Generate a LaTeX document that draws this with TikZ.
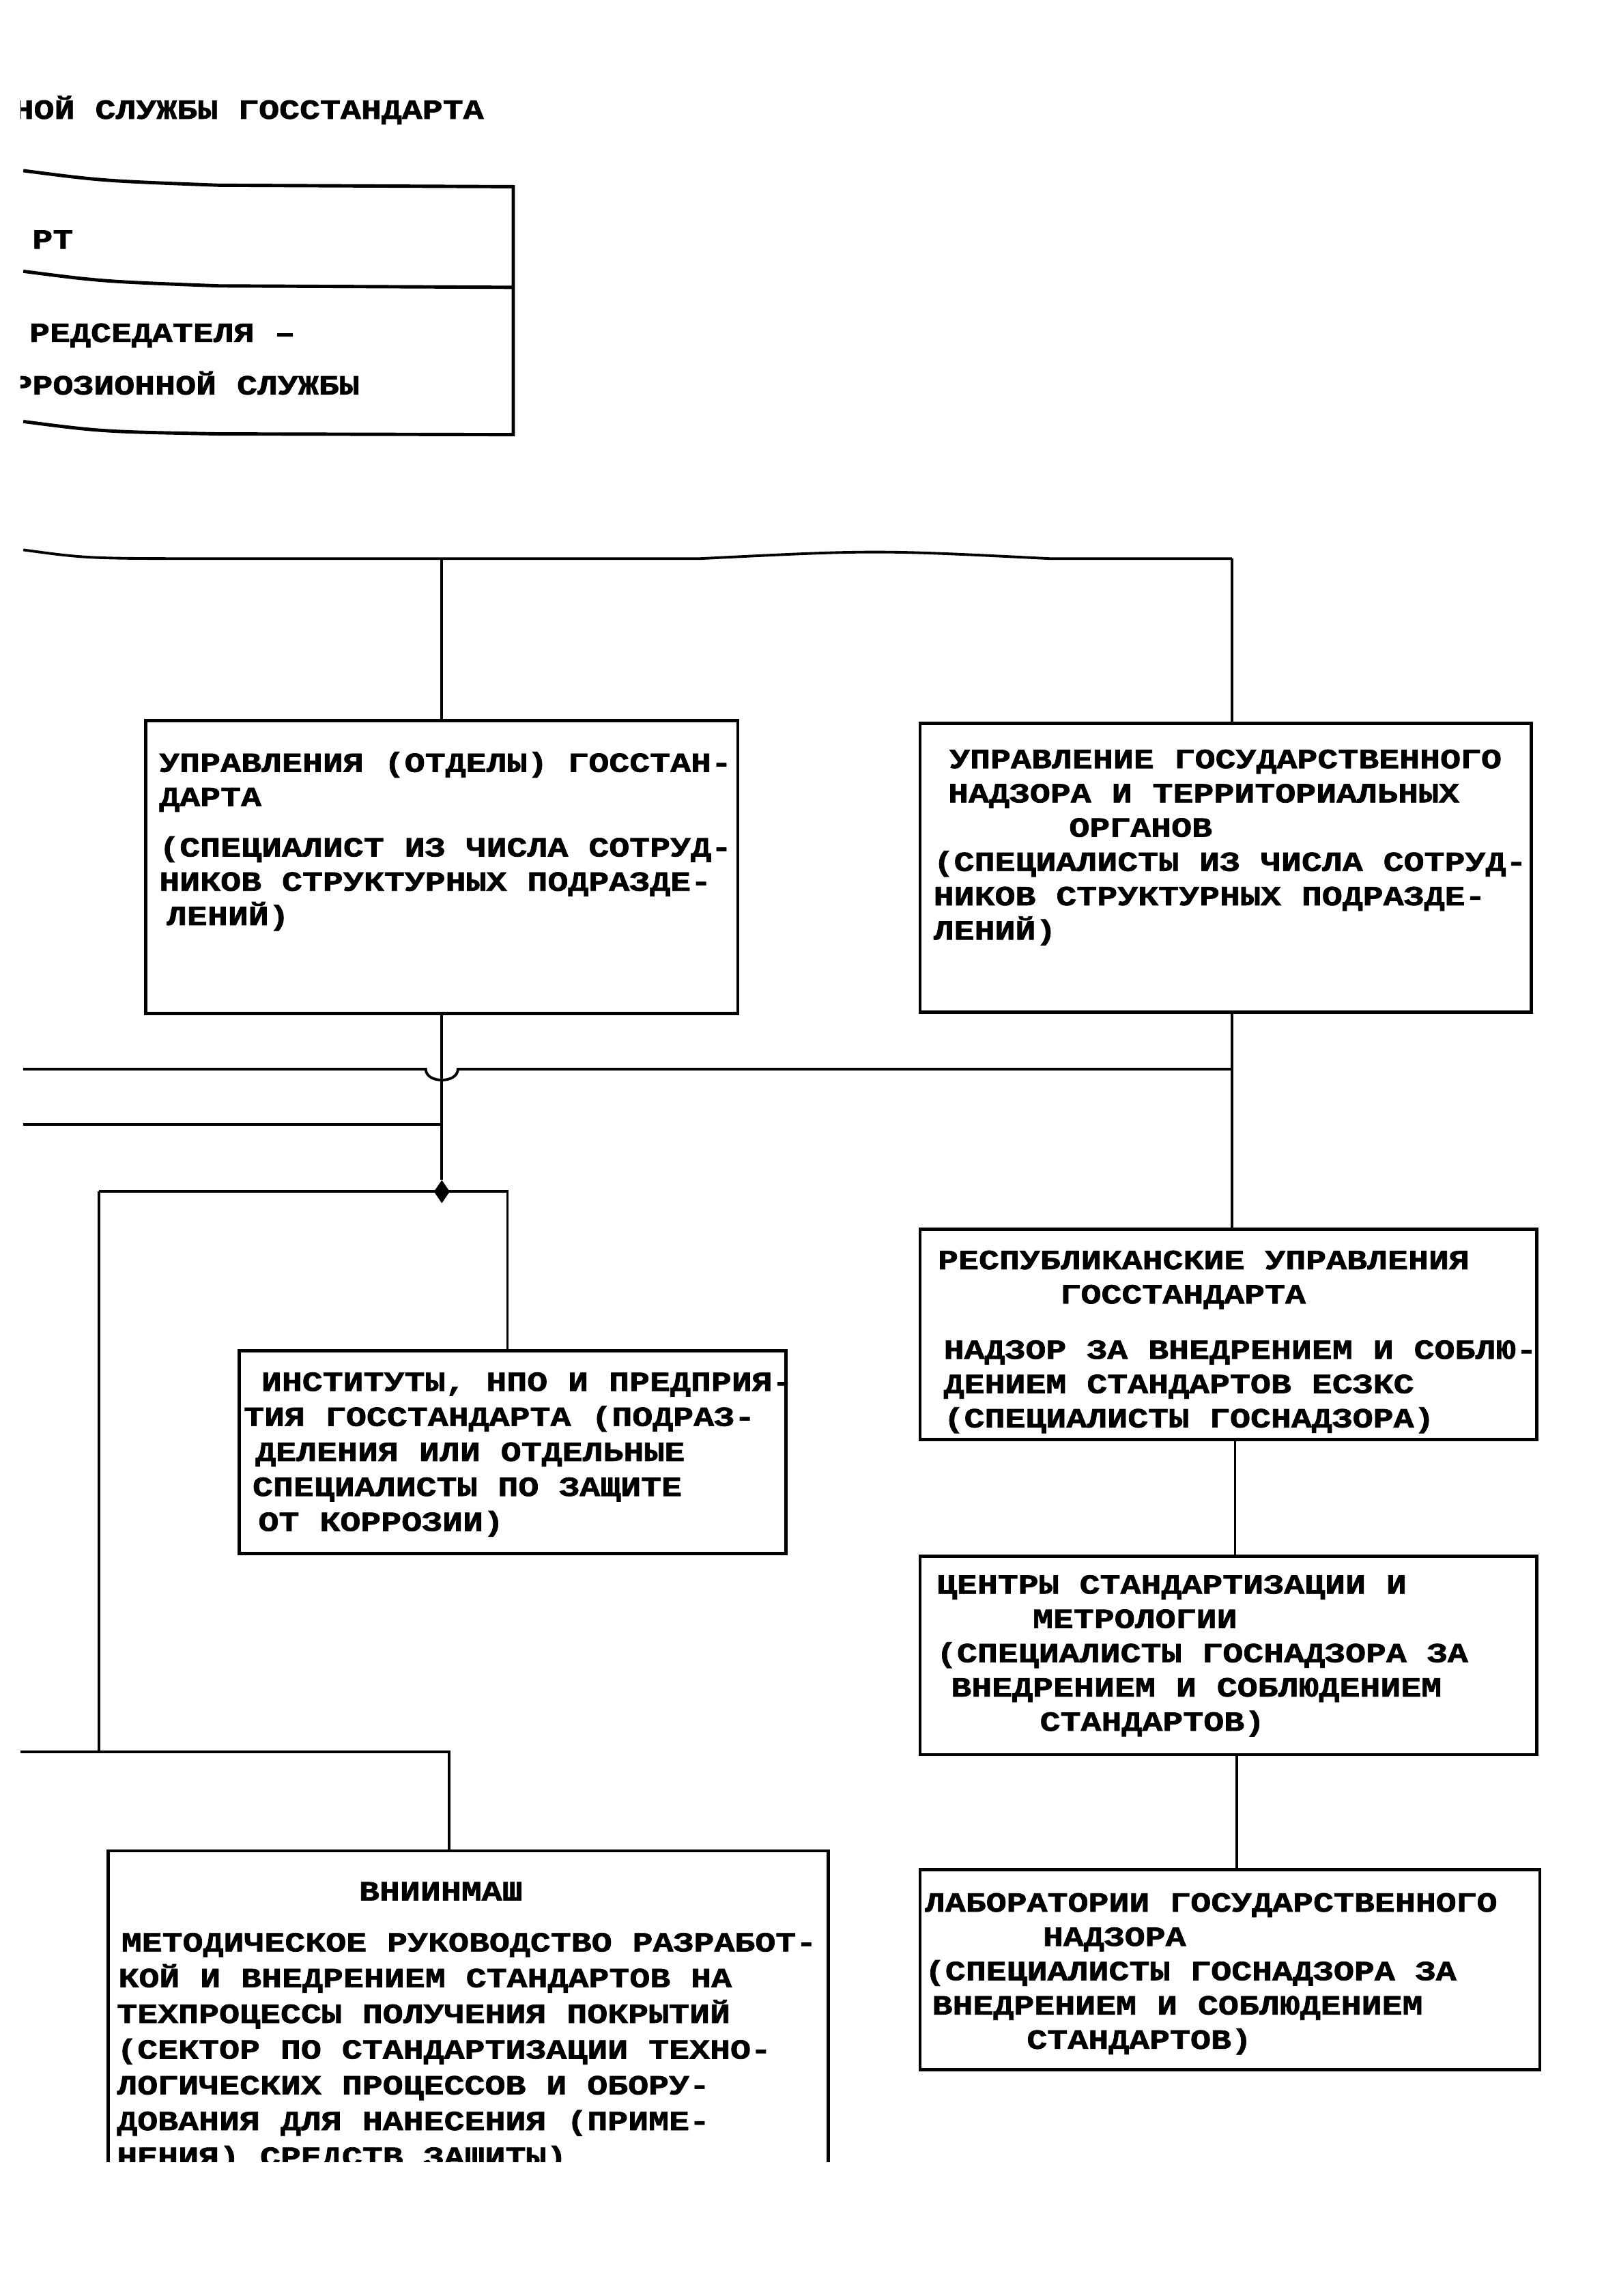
\documentclass[tikz,border=0pt]{standalone}
\usepackage{fontspec}
\newfontfamily\typewr[FakeStretch=1.23,FakeBold=1.8]{Liberation Mono Bold}
\usetikzlibrary{positioning,shapes.geometric}
\tikzset{box/.style={draw,line width=2.3pt,anchor=north west,inner sep=0pt,outer sep=0pt}}
\tikzset{txt/.style={anchor=north west,inner sep=0pt,align=left,
  font=\typewr\fontsize{19}{23.5}\selectfont,
  execute at begin node={\rule{0pt}{17pt}}}}
\tikzstyle{wire}=[line width=1.8pt]
\tikzstyle{jdot}=[diamond,fill,inner sep=0pt,minimum width=11pt,minimum height=16pt]

\begin{document}
\begin{tikzpicture}[x=1pt,y=-1pt]
    \fill[white] (0,0) rectangle (1100,1574.2);
    \useasboundingbox (0,0) rectangle (1100,1574.2);
    \begin{scope}
    \clip (14,0) rectangle (1100,1482);
    \node[txt] (ttl) at (9,64.25) {НОЙ СЛУЖБЫ ГОССТАНДАРТА};
    \draw[line width=2.3pt] (16,117) .. controls (70,124) .. (150,127) -- (352,128) -- (352,298) -- (150,297.5) .. controls (70,296) .. (16,289);
    \draw[line width=2.3pt] (16,186) .. controls (70,193) .. (150,196) -- (352,197);
    \node[txt] (pred) at (22,153.25) {РТ};
    \node[txt] (zam) at (20,217.25) {РЕДСЕДАТЕЛЯ –};
    \node[txt] (korr) at (8,253.25) {РРОЗИОННОЙ СЛУЖБЫ};

    \node[box,minimum width=406pt,minimum height=201pt] (upr) at (100,494) {};
    \node[txt,below right=21.25pt and 9pt of upr.north west] (upr-t) {УПРАВЛЕНИЯ (ОТДЕЛЫ) ГОССТАН-\\ДАРТА\\[11pt]
      (СПЕЦИАЛИСТ ИЗ ЧИСЛА СОТРУД-\\НИКОВ СТРУКТУРНЫХ ПОДРАЗДЕ-\\\hspace*{5pt}ЛЕНИЙ)};
    \node[box,minimum width=419pt,minimum height=198pt] (gosn) at (631,496) {};
    \node[txt,below right=17.75pt and 9pt of gosn.north west] (gosn-t) {\hspace*{11pt}УПРАВЛЕНИЕ ГОСУДАРСТВЕННОГО\\
      \hspace*{10pt}НАДЗОРА И ТЕРРИТОРИАЛЬНЫХ\\\hspace*{93pt}ОРГАНОВ\\
      (СПЕЦИАЛИСТЫ ИЗ ЧИСЛА СОТРУД-\\НИКОВ СТРУКТУРНЫХ ПОДРАЗДЕ-\\ЛЕНИЙ)};
    \node[box,minimum width=375pt,minimum height=139pt] (inst) at (164,926) {};
    \node[txt,below right=14.75pt and 3pt of inst.north west,font=\typewr\fontsize{19}{24}\selectfont] (inst-t) {\hspace*{12pt}ИНСТИТУТЫ, НПО И ПРЕДПРИЯ-\\
      ТИЯ ГОССТАНДАРТА (ПОДРАЗ-\\\hspace*{8pt}ДЕЛЕНИЯ ИЛИ ОТДЕЛЬНЫЕ\\
      \hspace*{6pt}СПЕЦИАЛИСТЫ ПО ЗАЩИТЕ\\\hspace*{10pt}ОТ КОРРОЗИИ)};
    \node[box,minimum width=494pt,minimum height=240pt] (vnii) at (74,1269) {};
    \node[txt,below right=21.25pt and 6pt of vnii.north west,font=\typewr\fontsize{19}{24.5}\selectfont] (vnii-t) {\hspace*{166pt}ВНИИНМАШ\\[10.5pt]
      \hspace*{3pt}МЕТОДИЧЕСКОЕ РУКОВОДСТВО РАЗРАБОТ-\\\hspace*{1pt}КОЙ И ВНЕДРЕНИЕМ СТАНДАРТОВ НА\\
      ТЕХПРОЦЕССЫ ПОЛУЧЕНИЯ ПОКРЫТИЙ\\(СЕКТОР ПО СТАНДАРТИЗАЦИИ ТЕХНО-\\
      ЛОГИЧЕСКИХ ПРОЦЕССОВ И ОБОРУ-\\ДОВАНИЯ ДЛЯ НАНЕСЕНИЯ (ПРИМЕ-\\НЕНИЯ) СРЕДСТВ ЗАЩИТЫ)};
    \node[box,minimum width=423pt,minimum height=144pt] (resp) at (631,843) {};
    \node[txt,below right=14.25pt and 12pt of resp.north west] (resp-t) {РЕСПУБЛИКАНСКИЕ УПРАВЛЕНИЯ\\
      \hspace*{84pt}ГОССТАНДАРТА\\[14.5pt]\hspace*{4pt}НАДЗОР ЗА ВНЕДРЕНИЕМ И СОБЛЮ-\\
      \hspace*{4pt}ДЕНИЕМ СТАНДАРТОВ ЕСЗКС\\\hspace*{4pt}(СПЕЦИАЛИСТЫ ГОСНАДЗОРА)};
    \node[box,minimum width=423pt,minimum height=136pt] (csm) at (631,1067) {};
    \node[txt,below right=12.75pt and 11pt of csm.north west] (csm-t) {ЦЕНТРЫ СТАНДАРТИЗАЦИИ И\\
      \hspace*{66pt}МЕТРОЛОГИИ\\(СПЕЦИАЛИСТЫ ГОСНАДЗОРА ЗА\\
      \hspace*{10pt}ВНЕДРЕНИЕМ И СОБЛЮДЕНИЕМ\\\hspace*{71pt}СТАНДАРТОВ)};
    \node[box,minimum width=425pt,minimum height=137pt] (lab) at (631,1282) {};
    \node[txt,below right=15.75pt and 3pt of lab.north west] (lab-t) {ЛАБОРАТОРИИ ГОСУДАРСТВЕННОГО\\
      \hspace*{81pt}НАДЗОРА\\(СПЕЦИАЛИСТЫ ГОСНАДЗОРА ЗА\\
      \hspace*{5pt}ВНЕДРЕНИЕМ И СОБЛЮДЕНИЕМ\\\hspace*{70pt}СТАНДАРТОВ)};

    \coordinate (busL) at (16,377);
    \coordinate (busA) at (303,383);
    \coordinate (busB) at (845,383);
    \coordinate (hopL) at (16,733);
    \coordinate (lowL) at (16,771);
    \coordinate (brL) at (68,817);
    \coordinate (brR) at (348,817);
    \coordinate (dbusL) at (14,1201);
    \coordinate (dbusR) at (308,1201);
    \node[jdot] (jn) at (303,817) {};

    \draw[wire] (busL) .. controls (60,383) .. (150,383) -- (busA) -- (480,383) .. controls (600,377) .. (720,383) -- (busB);
    \draw[wire] (busA) -- (busA |- upr.north);
    \draw[wire] (busB) -- (busB |- gosn.north);
    \draw[wire] (upr.south) -- (jn);
    \draw[wire] (hopL) -- (292,733) .. controls (292,743) and (314,743) .. (314,733) -- (busB |- hopL);
    \draw[wire] (lowL) -- (lowL -| jn);
    \draw[wire] (brL) -- (brR) -- (brR |- inst.north);
    \draw[wire] (brL) -- (brL |- dbusL);
    \draw[wire] (dbusL) -- (dbusR) -- (dbusR |- vnii.north);
    \draw[wire] (busB |- gosn.south) -- (busB |- resp.north);
    \draw[wire] (847,0 |- resp.south) -- (847,0 |- csm.north);
    \draw[wire] (848,0 |- csm.south) -- (848,0 |- lab.north);
    \end{scope}
\end{tikzpicture}
\end{document}
